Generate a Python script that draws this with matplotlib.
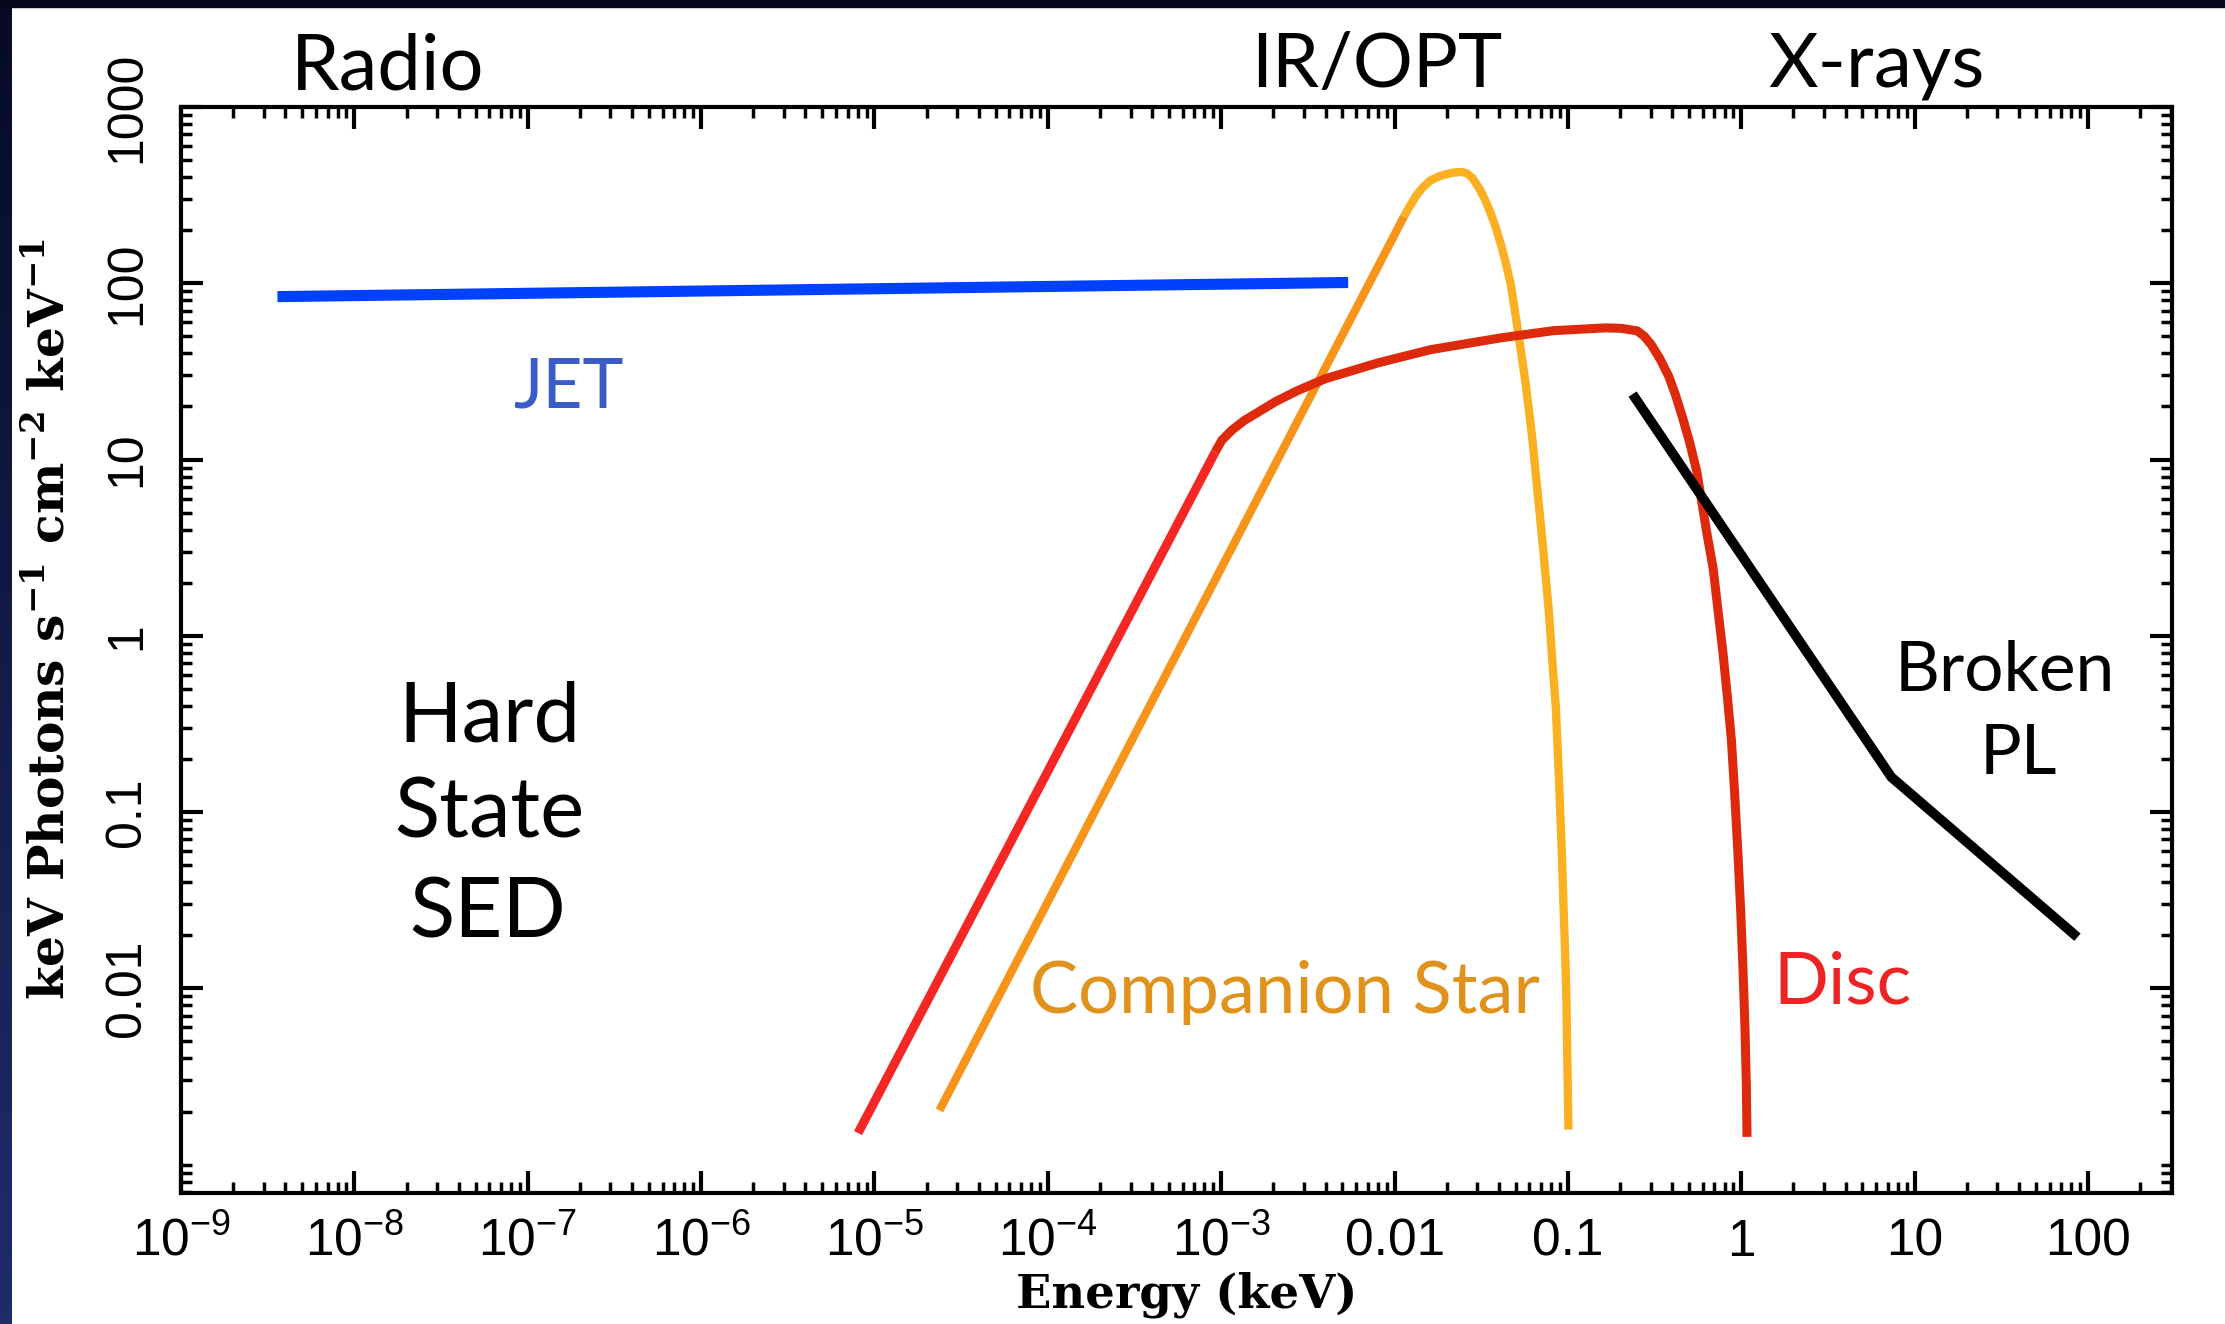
"""
SED de estado duro (Hard State) de un binario de rayos X:
jet, estrella compañera, disco y ley de potencias quebrada.
"""

import matplotlib
matplotlib.use("Agg")
import matplotlib.pyplot as plt
from matplotlib.colors import LinearSegmentedColormap
from matplotlib.ticker import FixedLocator, LogLocator, NullFormatter

# ── Datos (E en keV, flujo en keV fotones s-1 cm-2 keV-1) ──
JET_E = [3.6e-9, 5.4e-3]
JET_F = [84.0, 101.0]

STAR_RISE_E = [2.37e-5, 1.132e-2]
STAR_RISE_F = [2.03e-3, 238.8]
STAR_TOP_E = [0.01132, 0.01227, 0.01334, 0.01466, 0.01607, 0.01807, 0.02028,
              0.02228, 0.02443, 0.02618, 0.02812, 0.03083, 0.03311, 0.03548,
              0.03802, 0.04083, 0.04375, 0.04688, 0.05152, 0.05702, 0.06209,
              0.06653, 0.07129, 0.07762, 0.08204, 0.08511, 0.0887, 0.09226,
              0.09772, 0.1007]
STAR_TOP_F = [238.8, 274.2, 314.8, 352.4, 382.8, 404.6, 417.8,
              425.6, 427.6, 419.8, 395.4, 344.4, 300.6, 255.9,
              212.8, 169.0, 131.5, 97.5, 53.7, 27.0, 13.58,
              6.82, 3.43, 1.368, 0.632, 0.398, 0.158, 0.0575,
              0.0100, 1.58e-3]

DISC_RISE_E = [8.04e-6, 9.23e-4]
DISC_RISE_F = [1.51e-3, 11.02]
DISC_TOP_E = [9.23e-4, 1.007e-3, 1.156e-3, 1.361e-3, 1.641e-3, 2.070e-3, 2.742e-3,
              3.981e-3, 8.0e-3, 0.0161, 0.04083, 0.08222, 0.1652, 0.2042,
              0.2512, 0.2754, 0.3027, 0.3396, 0.3819, 0.4188, 0.4603, 0.5047,
              0.5534, 0.6310, 0.6871, 0.7328, 0.7852, 0.8318, 0.8770, 0.9162,
              0.9572, 0.9931, 1.0233, 1.0495, 1.0691, 1.0789]
DISC_TOP_F = [11.02, 12.85, 14.72, 16.67, 18.62, 21.38, 24.55,
              28.71, 35.32, 41.98, 48.98, 53.83, 55.85, 55.46,
              53.70, 50.1, 44.77, 37.24, 29.58, 23.01, 17.06, 12.39,
              8.57, 3.89, 2.432, 1.413, 0.789, 0.4467, 0.2559, 0.1259,
              0.0570, 0.0269, 0.01268, 6.03e-3, 2.825e-3, 1.436e-3]

PL_E = [0.236, 7.33, 86.9]
PL_F = [23.5, 0.158, 0.0195]

X_TICKS = [1e-9, 1e-8, 1e-7, 1e-6, 1e-5, 1e-4, 1e-3, 1e-2, 1e-1, 1.0, 10.0, 100.0]
X_TICK_LABELS = [r"$10^{-9}$", r"$10^{-8}$", r"$10^{-7}$", r"$10^{-6}$",
                 r"$10^{-5}$", r"$10^{-4}$", r"$10^{-3}$",
                 "0.01", "0.1", "1", "10", "100"]
Y_TICKS = [1e-2, 1e-1, 1.0, 10.0, 100.0, 1000.0]
Y_TICK_LABELS = ["0.01", "0.1", "1", "10", "100", "1000"]

W, H = 2225, 1324


def fx(px):
    return px / W


def fy(py):
    return 1 - py / H


def main() -> None:
    plt.rcParams["mathtext.fontset"] = "custom"
    plt.rcParams["mathtext.rm"] = "Liberation Sans"
    plt.rcParams["mathtext.it"] = "Liberation Sans:italic"
    plt.rcParams["mathtext.bf"] = "DejaVu Serif:bold"

    fig = plt.figure(figsize=(W / 100, H / 100), dpi=100)
    fig.patch.set_facecolor("white")

    # ── Bordes oscuros (izquierda con degradado, arriba) ──
    strip = fig.add_axes([0, 0, fx(12), 1])
    cmap = LinearSegmentedColormap.from_list("borde", ["#070b24", "#1f2c6c"])
    strip.imshow([[i] for i in range(100)], cmap=cmap, aspect="auto")
    strip.set_axis_off()
    fig.patches.append(plt.Rectangle((0, fy(7)), 1, 7 / H, transform=fig.transFigure,
                                     color="#050818", zorder=5))

    ax = fig.add_axes([fx(181), fy(1193), fx(2172) - fx(181), fy(107) - fy(1193)])
    ax.set_xscale("log")
    ax.set_yscale("log")
    ax.set_xlim(1e-9, 3.05e2)
    ax.set_ylim(6.9e-4, 1000)

    lw_kw = dict(solid_capstyle="butt", solid_joinstyle="round")
    ax.plot(JET_E, JET_F, color="#0040ff", lw=8, **lw_kw)
    ax.plot(STAR_RISE_E, STAR_RISE_F, color="#f7951a", lw=6, **lw_kw)
    ax.plot(STAR_TOP_E, STAR_TOP_F, color="#fab020", lw=6, **lw_kw)
    ax.plot(DISC_RISE_E, DISC_RISE_F, color="#f42724", lw=6.5, **lw_kw)
    ax.plot(DISC_TOP_E, DISC_TOP_F, color="#de2a0c", lw=6.5, **lw_kw)
    ax.plot(PL_E, PL_F, color="black", lw=7, **lw_kw)

    # ── Ejes y marcas ──
    for side in ax.spines.values():
        side.set_linewidth(3)
    ax.xaxis.set_major_locator(FixedLocator(X_TICKS))
    ax.xaxis.set_minor_locator(LogLocator(base=10, subs=range(1, 10), numticks=30))
    ax.xaxis.set_minor_formatter(NullFormatter())
    ax.set_xticklabels(X_TICK_LABELS)
    ax.yaxis.set_major_locator(FixedLocator(Y_TICKS))
    ax.yaxis.set_minor_locator(LogLocator(base=10, subs=range(1, 10), numticks=30))
    ax.yaxis.set_minor_formatter(NullFormatter())
    ax.set_yticklabels(Y_TICK_LABELS)

    ax.tick_params(which="both", direction="in", top=True, right=True)
    ax.tick_params(which="major", length=16, width=3)
    ax.tick_params(which="minor", length=8, width=2.5)
    ax.tick_params(axis="x", which="major", pad=45, labelsize=37)
    ax.tick_params(axis="y", which="major", pad=22, labelsize=36, labelrotation=90)
    for lbl in ax.get_xticklabels():
        lbl.set_fontfamily("Liberation Sans")
        lbl.set_verticalalignment("baseline")
    for lbl in ax.get_yticklabels():
        lbl.set_fontfamily("Liberation Sans")
        lbl.set_verticalalignment("center")

    # ── Títulos de ejes ──
    fig.text(fx(1187), fy(1307), "Energy (keV)", ha="center", va="baseline",
             family="DejaVu Serif", weight="bold", fontsize=33.5)
    fig.text(fx(50), fy(619),
             r"keV Photons s$^{\mathbf{-1}}$ cm$^{\mathbf{-2}}$ keV$^{\mathbf{-1}}$",
             rotation=90, ha="center", va="center",
             family="DejaVu Serif", weight="bold", fontsize=35)

    # ── Bandas ──
    txt = dict(family="Lato", ha="center", va="baseline")
    fig.text(fx(388), fy(89), "Radio", fontsize=56, **txt)
    fig.text(fx(1377), fy(87), "IR/OPT", fontsize=54, **txt)
    fig.text(fx(1876), fy(87), "X-rays", fontsize=55, **txt)

    # ── Etiquetas de componentes ──
    fig.text(fx(568), fy(408), "JET", fontsize=50, color="#3a5ccb", **txt)
    fig.text(fx(489), fy(741), "Hard", fontsize=60, **txt)
    fig.text(fx(489), fy(838), "State", fontsize=60, **txt)
    fig.text(fx(488), fy(938), "SED", fontsize=60, **txt)
    fig.text(fx(2005), fy(691), "Broken", fontsize=50, **txt)
    fig.text(fx(2018), fy(774), "PL", fontsize=50, **txt)
    fig.text(fx(1285), fy(1013), "Companion Star", fontsize=52, color="#e0921a", **txt)
    fig.text(fx(1842), fy(1003), "Disc", fontsize=52, color="#ee2424", **txt)

    fig.savefig("out.png", dpi=100)


if __name__ == "__main__":
    main()
